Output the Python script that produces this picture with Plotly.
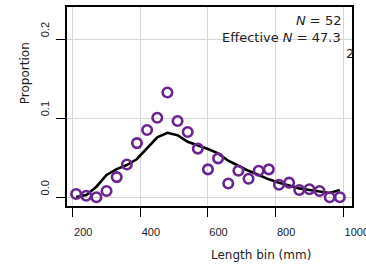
import plotly.graph_objects as go

length_bins = [210, 240, 270, 300, 330, 360, 390, 420, 450, 480, 510, 540, 570, 600,
               630, 660, 690, 720, 750, 780, 810, 840, 870, 900, 930, 960, 990]
observed = [0.0047, 0.0025, 0.0005, 0.0085, 0.026, 0.042, 0.069, 0.0855, 0.101, 0.133,
            0.097, 0.083, 0.062, 0.0358, 0.0497, 0.018, 0.034, 0.024, 0.034, 0.0358,
            0.0164, 0.019, 0.0097, 0.0106, 0.0085, 0.0005, 0.0005]
expected = [0.0008, 0.0034, 0.0139, 0.0287, 0.0362, 0.0413, 0.0489, 0.0624, 0.0763, 0.082,
            0.079, 0.0707, 0.0665, 0.0615, 0.056, 0.0467, 0.0404, 0.034, 0.0287, 0.0232,
            0.019, 0.0152, 0.0118, 0.0097, 0.008, 0.006, 0.0097]
x_ticks = [200, 400, 600, 800, 1000]
y_ticks = [0.0, 0.1, 0.2]
y_tick_labels = ["0.0", "0.1", "0.2"]

purple = "#6a2591"

fig = go.Figure()
fig.add_trace(go.Scatter(x=length_bins, y=expected, mode="lines",
                         line=dict(color="black", width=2.6), showlegend=False))
fig.add_trace(go.Scatter(x=length_bins, y=observed, mode="markers",
                         marker=dict(symbol="circle-open", size=9.5, color=purple,
                                     line=dict(width=2.6, color=purple)),
                         showlegend=False))

tickfont = dict(family="Liberation Sans, Arial", size=11, color="#222")
fig.update_xaxes(range=[183, 1026], tickvals=x_ticks, ticktext=[str(v) for v in x_ticks],
                 showgrid=True, gridcolor="#d6d6d6", gridwidth=1.3,
                 showline=True, linecolor="black", linewidth=1.5, mirror=True,
                 ticks="outside", ticklen=9, tickcolor="black", tickwidth=1.2,
                 ticklabelposition="outside right", ticklabeloverflow="allow",
                 tickfont=tickfont, zeroline=False,
                 ticklabelstandoff=15, automargin=False)
fig.update_yaxes(range=[-0.0105, 0.241], tickvals=y_ticks, ticktext=y_tick_labels,
                 showgrid=True, gridcolor="#d6d6d6", gridwidth=1.3,
                 showline=True, linecolor="black", linewidth=1.5, mirror=True,
                 ticks="outside", ticklen=9, tickcolor="black", tickwidth=1.2,
                 tickangle=-90, ticklabelposition="outside top", ticklabeloverflow="allow",
                 tickfont=tickfont, ticklabelstandoff=12, zeroline=False, automargin=False)

afont = dict(family="DejaVu Sans", size=13, color="#222")
tfont = dict(family="DejaVu Sans", size=12, color="#222")
fig.add_annotation(x=0.968, y=0.931, xref="paper", yref="paper", text="<i>N</i> = 52",
                   showarrow=False, xanchor="right", yanchor="middle", font=afont)
fig.add_annotation(x=0.968, y=0.846, xref="paper", yref="paper",
                   text="Effective <i>N</i> = 47.3",
                   showarrow=False, xanchor="right", yanchor="middle", font=afont)
fig.add_annotation(x=0.973, y=0.764, xref="paper", yref="paper", text="2",
                   showarrow=False, xanchor="left", yanchor="middle", font=afont)
fig.add_annotation(x=0.682, y=-0.246, xref="paper", yref="paper", text="Length bin (mm)",
                   showarrow=False, xanchor="center", yanchor="middle", font=tfont)
fig.add_annotation(x=-0.147, y=0.668, xref="paper", yref="paper", text="Proportion",
                   textangle=-90, showarrow=False, xanchor="center", yanchor="middle",
                   font=tfont)

fig.update_layout(width=366, height=264, margin=dict(l=67, r=14, t=7, b=58),
                  plot_bgcolor="white", paper_bgcolor="white")
fig.write_html("out.html", config={"displayModeBar": False},
               post_script="document.body.style.margin='0';document.body.style.overflow='hidden';")
